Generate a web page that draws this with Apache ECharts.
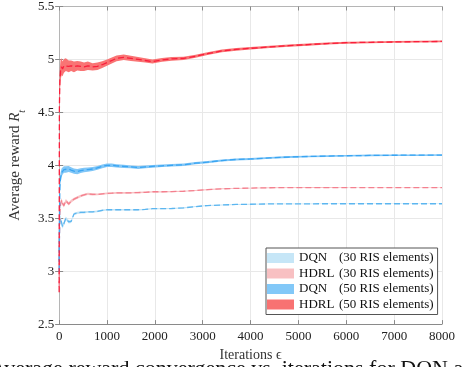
<!DOCTYPE html>
<html>
<head>
<meta charset="utf-8">
<script src="https://cdn.jsdelivr.net/npm/echarts@6/dist/echarts.min.js"></script>
<style>
  html, body {margin: 0; padding: 0; background: #fff;}
  #main {width: 463px; height: 367px;}
</style>
</head>
<body>
<div id="main"></div>
<script>
// iterations sampled (denser at the start where the curves move)
const iters = [0, 5, 15, 30, 50, 70, 100, 140, 200, 250, 310, 380, 450, 520, 600, 700, 800, 900, 1000, 1100, 1200, 1350, 1500, 1650, 1800, 1950, 2150, 2350, 2600, 2850, 3100, 3400, 3700, 4000, 4400, 4800, 5200, 5600, 6000, 6500, 7000, 7500, 8000];

// DQN, 30 RIS elements
const dqn30 = [3.1, 3.3, 3.48, 3.5, 3.46, 3.42, 3.45, 3.5, 3.465, 3.47, 3.54, 3.55, 3.555, 3.555, 3.56, 3.56, 3.565, 3.575, 3.58, 3.58, 3.58, 3.58, 3.58, 3.58, 3.583, 3.59, 3.59, 3.592, 3.598, 3.61, 3.62, 3.625, 3.63, 3.632, 3.635, 3.636, 3.636, 3.637, 3.637, 3.637, 3.637, 3.637, 3.637];
const dqn30Half = [0.01, 0.04, 0.03, 0.025, 0.02, 0.02, 0.018, 0.016, 0.015, 0.014, 0.012, 0.011, 0.01, 0.01, 0.009, 0.009, 0.008, 0.008, 0.008, 0.007, 0.007, 0.007, 0.006, 0.006, 0.006, 0.006, 0.005, 0.005, 0.005, 0.005, 0.005, 0.004, 0.004, 0.004, 0.004, 0.004, 0.004, 0.003, 0.003, 0.003, 0.003, 0.003, 0.003];

// HDRL, 30 RIS elements
const hdrl30 = [2.85, 3.3, 3.55, 3.63, 3.67, 3.64, 3.62, 3.665, 3.635, 3.66, 3.68, 3.695, 3.71, 3.72, 3.73, 3.725, 3.725, 3.73, 3.735, 3.737, 3.74, 3.74, 3.74, 3.742, 3.745, 3.75, 3.75, 3.752, 3.755, 3.762, 3.77, 3.778, 3.782, 3.785, 3.788, 3.789, 3.79, 3.79, 3.79, 3.79, 3.79, 3.79, 3.79];
const hdrl30Half = [0.01, 0.04, 0.03, 0.025, 0.022, 0.02, 0.018, 0.016, 0.015, 0.014, 0.013, 0.012, 0.011, 0.011, 0.01, 0.01, 0.009, 0.009, 0.009, 0.008, 0.008, 0.008, 0.007, 0.007, 0.007, 0.006, 0.006, 0.006, 0.005, 0.005, 0.005, 0.005, 0.004, 0.004, 0.004, 0.004, 0.004, 0.004, 0.003, 0.003, 0.003, 0.003, 0.003];

// DQN, 50 RIS elements
const dqn50 = [3.0, 3.45, 3.8, 3.88, 3.93, 3.945, 3.96, 3.96, 3.965, 3.955, 3.945, 3.94, 3.95, 3.955, 3.96, 3.965, 3.975, 3.99, 4.0, 4.0, 3.995, 3.99, 3.985, 3.98, 3.985, 3.99, 3.995, 4.0, 4.005, 4.02, 4.03, 4.045, 4.055, 4.06, 4.07, 4.078, 4.083, 4.087, 4.09, 4.093, 4.095, 4.096, 4.097];
const dqn50Half = [0.02, 0.1, 0.08, 0.05, 0.04, 0.035, 0.03, 0.03, 0.028, 0.026, 0.025, 0.024, 0.022, 0.021, 0.02, 0.019, 0.018, 0.017, 0.016, 0.016, 0.015, 0.015, 0.014, 0.014, 0.013, 0.013, 0.012, 0.012, 0.011, 0.011, 0.01, 0.01, 0.01, 0.009, 0.009, 0.009, 0.008, 0.008, 0.008, 0.008, 0.007, 0.007, 0.007];

// HDRL, 50 RIS elements
const hdrl50 = [2.8, 4.55, 4.8, 4.9, 4.93, 4.91, 4.94, 4.95, 4.935, 4.94, 4.93, 4.94, 4.935, 4.93, 4.94, 4.93, 4.935, 4.95, 4.97, 4.99, 5.01, 5.02, 5.01, 5.0, 4.99, 4.98, 4.995, 5.005, 5.01, 5.03, 5.055, 5.08, 5.095, 5.105, 5.118, 5.13, 5.14, 5.15, 5.158, 5.162, 5.165, 5.168, 5.17];
const hdrl50Half = [0.02, 0.15, 0.12, 0.1, 0.08, 0.07, 0.065, 0.06, 0.055, 0.05, 0.05, 0.045, 0.045, 0.04, 0.04, 0.035, 0.035, 0.032, 0.03, 0.028, 0.027, 0.026, 0.024, 0.022, 0.02, 0.019, 0.018, 0.017, 0.016, 0.015, 0.014, 0.013, 0.012, 0.012, 0.011, 0.01, 0.01, 0.009, 0.009, 0.008, 0.008, 0.008, 0.008];

const algos = ['DQN', 'HDRL', 'DQN', 'HDRL'];
const risLabels = ['(30 RIS elements)', '(30 RIS elements)', '(50 RIS elements)', '(50 RIS elements)'];

const means = [dqn30, hdrl30, dqn50, hdrl50];
const halves = [dqn30Half, hdrl30Half, dqn50Half, hdrl50Half];
const lineColors = ['#5cb6f0', '#f4808f', '#3aa5f2', '#fa1e3c'];
const bandColors = ['#c3e4f6', '#f8c2c4', '#80c6f7', '#f97474'];
const patchColors = ['#c6e6f7', '#f8c0c2', '#82c8f8', '#f87272'];

const serif = '"Liberation Serif", "DejaVu Serif", serif';
const chart = echarts.init(document.getElementById('main'));

// shaded band: one polygon through the upper edge and back along the lower edge
function bandItem(params, api) {
  if (params.dataIndex !== 0) return null;
  const upper = [], lower = [];
  for (let i = 0; i < iters.length; i++) {
    upper.push(api.coord([api.value(0, i), api.value(2, i)]));
    lower.push(api.coord([api.value(0, i), api.value(1, i)]));
  }
  return {
    type: 'polygon',
    shape: {points: upper.concat(lower.reverse())},
    style: {fill: api.visual('color')}
  };
}

const series = [];
means.forEach((m, k) => {
  const name = algos[k] + ' ' + risLabels[k];
  const h = halves[k];
  series.push({
    name, type: 'custom', silent: true, z: 1 + 2 * k,
    itemStyle: {color: bandColors[k]},
    renderItem: bandItem,
    clip: true,
    encode: {x: 0, y: [1, 2]},
    data: iters.map((x, i) => [x, m[i] - h[i], m[i] + h[i]])
  });
  series.push({
    name, type: 'line', symbol: 'none', silent: true, z: 2 + 2 * k,
    lineStyle: {color: lineColors[k], width: 1.3, type: [6, 3]},
    itemStyle: {color: lineColors[k]},
    data: iters.map((x, i) => [x, m[i]])
  });
});

chart.setOption({
  animation: false,
  backgroundColor: '#fff',
  grid: {left: 53, right: 21, top: 4, bottom: 42},
  xAxis: [{
    type: 'value', min: 0, max: 8000, interval: 1000,
    axisLine: {show: true, lineStyle: {color: '#8a8a8a', width: 1}},
    axisTick: {show: true, inside: true, length: 4, lineStyle: {color: '#8a8a8a'}},
    axisLabel: {color: '#222', fontFamily: serif, fontSize: 13, margin: 6, formatter: (v) => String(v)},
    splitLine: {show: true, lineStyle: {color: '#e8e8e8', width: 1}},
    name: 'Iterations ϵ', nameLocation: 'middle', nameGap: 22,
    nameTextStyle: {color: '#333', fontFamily: serif, fontSize: 14}
  }, {
    type: 'value', min: 0, max: 8000, interval: 1000, position: 'top',
    axisLine: {show: true, lineStyle: {color: '#b5b5b5', width: 1}},
    axisTick: {show: true, inside: true, length: 4, lineStyle: {color: '#8a8a8a'}},
    axisLabel: {show: false}, splitLine: {show: false}
  }],
  yAxis: [{
    type: 'value', min: 2.5, max: 5.5, interval: 0.5,
    axisLine: {show: true, lineStyle: {color: '#8a8a8a', width: 1}},
    axisTick: {show: true, inside: true, length: 4, lineStyle: {color: '#8a8a8a'}},
    axisLabel: {color: '#222', fontFamily: serif, fontSize: 13, margin: 5},
    splitLine: {show: true, lineStyle: {color: '#e8e8e8', width: 1}},
    name: '{a|Average reward }{b|R}{c|t}', nameLocation: 'middle', nameGap: 30,
    nameTextStyle: {
      color: '#333', fontFamily: serif, fontSize: 15,
      rich: {
        a: {fontFamily: serif, fontSize: 15, color: '#333'},
        b: {fontFamily: serif, fontSize: 15, fontStyle: 'italic', color: '#333'},
        c: {fontFamily: serif, fontSize: 10, fontStyle: 'italic', color: '#333', verticalAlign: 'bottom', padding: [0, 0, -4, 0]}
      }
    }
  }, {
    type: 'value', min: 2.5, max: 5.5, interval: 0.5, position: 'right',
    axisLine: {show: true, lineStyle: {color: '#b5b5b5', width: 1}},
    axisTick: {show: true, inside: true, length: 4, lineStyle: {color: '#8a8a8a'}},
    axisLabel: {show: false}, splitLine: {show: false}
  }],
  legend: {
    orient: 'vertical', left: 266, top: 248, z: 30,
    padding: [3, 4, 3, 1], itemGap: 1.5, itemWidth: 27, itemHeight: 10,
    icon: 'rect', backgroundColor: '#fff', borderColor: '#555', borderWidth: 1,
    selectedMode: false,
    data: algos.map((a, k) => ({
      name: a + ' ' + risLabels[k],
      itemStyle: {color: patchColors[k], borderWidth: 0}
    })),
    formatter: (name) => {
      const i = name.indexOf(' ');
      return '{a|' + name.slice(0, i) + '}{b|' + name.slice(i + 1) + '}';
    },
    textStyle: {
      color: '#111', fontFamily: serif, fontSize: 13, lineHeight: 14,
      rich: {
        a: {width: 40, fontFamily: serif, fontSize: 13, color: '#111'},
        b: {fontFamily: serif, fontSize: 13, color: '#111'}
      }
    }
  },
  graphic: [{
    type: 'text', left: -10, top: 358, silent: true, z: 30,
    style: {text: 'Average reward convergence vs. iterations for DQN and HDRL', font: '22px ' + serif, fill: '#111'}
  }],
  series
});
</script>
</body>
</html>
